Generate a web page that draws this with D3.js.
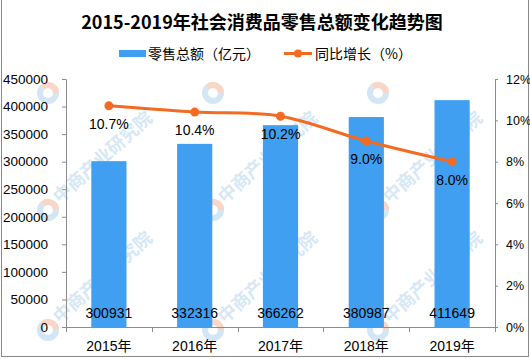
<!DOCTYPE html>
<html>
<head>
<meta charset="utf-8">
<script src="https://cdn.jsdelivr.net/npm/d3@7"></script>
<style>
  html, body { margin: 0; padding: 0; background: #fff; }
  svg { display: block; }
</style>
</head>
<body>
<svg id="chart" width="530" height="359"></svg>
<script>
// ---- data ----
const categories = ["2015年", "2016年", "2017年", "2018年", "2019年"];
const salesValues = [300931, 332316, 366262, 380987, 411649];
const growthValues = [10.7, 10.4, 10.2, 9.0, 8.0];
const growthLabels = ["10.7%", "10.4%", "10.2%", "9.0%", "8.0%"];
const leftTicks = [0, 50000, 100000, 150000, 200000, 250000, 300000, 350000, 400000, 450000];
const rightTicks = [0, 2, 4, 6, 8, 10, 12];
const titleText = "2015-2019年社会消费品零售总额变化趋势图";
const legendBarText = "零售总额（亿元）";
const legendLineText = "同比增长（%）";
const watermarkText = "中商产业研究院";

(function () {
// ---- layout ----
const svg = d3.select("#chart");
const W = 530, H = 359;
const pLeft = 66, pRight = 495, pTop = 79, pBottom = 327;
const barColor = "#419ff1";
const lineColor = "#f36a22";
const axisColor = "#8c8c8c";
const numFont = "'Liberation Sans', Arial, 'Noto Sans CJK SC', sans-serif";
const cjkFont = "'Noto Sans CJK SC', sans-serif";

svg.append("rect").attr("width", W).attr("height", H).attr("fill", "#fff");

// watermarks (logos everywhere, text only where it fits inside the picture)
const wm = svg.append("g").attr("class", "watermark");
const wmX = [48, 213, 378];
const wmY = [93, 210, 330];
wmY.forEach(ly => wmX.forEach(lx => {
  const g = wm.append("g").attr("transform", `translate(${lx},${ly})`);
  const arc = d3.arc().innerRadius(5).outerRadius(11);
  g.append("path").attr("d", arc({startAngle: Math.PI * 0.25, endAngle: Math.PI * 1.75}))
    .attr("fill", "#d3e6f5");
  g.append("path").attr("d", arc({startAngle: -Math.PI * 0.25, endAngle: Math.PI * 0.5}))
    .attr("fill", "#f8d6c8");
  if (ly > 150) {
    g.append("text")
      .attr("transform", "translate(12,-6) rotate(-42)")
      .attr("font-family", cjkFont)
      .attr("font-size", 18)
      .attr("font-weight", "bold")
      .attr("fill", "#d6e7f5")
      .text(watermarkText);
  }
}));

// border
svg.append("rect")
  .attr("x", 1.5).attr("y", -2).attr("width", 527).attr("height", 358.5)
  .attr("fill", "none").attr("stroke", "#8a8a8a").attr("stroke-width", 1);

// scales
const x = d3.scaleBand().domain(categories).range([pLeft, pRight]).padding(0);
const yL = d3.scaleLinear().domain([0, 450000]).range([pBottom, pTop]);
const yR = d3.scaleLinear().domain([0, 12]).range([pBottom, pTop]);
const bw = x.bandwidth() * 0.41;

// bars
svg.append("g").selectAll("rect")
  .data(salesValues)
  .join("rect")
  .attr("x", (d, i) => x(categories[i]) + x.bandwidth() / 2 - bw / 2)
  .attr("y", d => yL(d))
  .attr("width", bw)
  .attr("height", d => yL(0) - yL(d))
  .attr("fill", barColor);

// left axis
const axL = svg.append("g")
  .attr("transform", `translate(${pLeft},0)`)
  .call(d3.axisLeft(yL).tickValues(leftTicks).tickSize(4).tickPadding(14).tickSizeOuter(0).tickFormat(d3.format("d")));
axL.select(".domain").attr("stroke", axisColor);
axL.selectAll(".tick line").attr("stroke", axisColor);
axL.selectAll("text").attr("font-family", numFont).attr("font-size", 13.5).attr("fill", "#000");

// right axis
const axR = svg.append("g")
  .attr("transform", `translate(${pRight},0)`)
  .call(d3.axisRight(yR).tickValues(rightTicks).tickSize(3).tickPadding(8).tickSizeOuter(0).tickFormat(d => d + "%"));
axR.select(".domain").attr("stroke", axisColor);
axR.selectAll(".tick line").attr("stroke", axisColor);
axR.selectAll("text").attr("font-family", numFont).attr("font-size", 12.5).attr("fill", "#000");

// bottom axis
const axB = svg.append("g")
  .attr("transform", `translate(0,${pBottom})`)
  .call(d3.axisBottom(x).tickSize(0).tickPadding(14).tickSizeOuter(0));
axB.select(".domain").attr("stroke", axisColor).attr("d", `M${pLeft - 4},0.5H${pRight}`);
axB.selectAll("text").attr("font-family", numFont).attr("font-size", 14).attr("fill", "#000");
// category boundary ticks
const boundaries = categories.map(c => x(c)).concat([x(categories[categories.length - 1]) + x.bandwidth()]);
axB.selectAll(".bnd").data(boundaries).join("line")
  .attr("x1", d => Math.round(d) + 0.5).attr("x2", d => Math.round(d) + 0.5)
  .attr("y1", 0).attr("y2", 5)
  .attr("stroke", axisColor);

// bar value labels
svg.append("g").selectAll("text")
  .data(salesValues)
  .join("text")
  .attr("x", (d, i) => x(categories[i]) + x.bandwidth() / 2)
  .attr("y", pBottom - 9)
  .attr("text-anchor", "middle")
  .attr("font-family", numFont)
  .attr("font-size", 14)
  .attr("fill", "#000")
  .text(d => d);

// line
const pts = growthValues.map((v, i) => [x(categories[i]) + x.bandwidth() / 2, yR(v)]);
svg.append("path")
  .attr("d", d3.line().curve(d3.curveCardinal.tension(0))(pts))
  .attr("fill", "none")
  .attr("stroke", lineColor)
  .attr("stroke-width", 3);
svg.append("g").selectAll("circle")
  .data(growthValues)
  .join("circle")
  .attr("cx", (d, i) => x(categories[i]) + x.bandwidth() / 2)
  .attr("cy", d => yR(d))
  .attr("r", 4.5)
  .attr("fill", lineColor);

// growth labels
svg.append("g").selectAll("text")
  .data(growthValues)
  .join("text")
  .attr("x", (d, i) => x(categories[i]) + x.bandwidth() / 2)
  .attr("y", d => yR(d) + 23)
  .attr("text-anchor", "middle")
  .attr("font-family", numFont)
  .attr("font-size", 14)
  .attr("fill", "#000")
  .text((d, i) => growthLabels[i]);

// title
svg.append("text")
  .attr("x", 262).attr("y", 29)
  .attr("text-anchor", "middle")
  .attr("font-family", cjkFont)
  .attr("font-weight", "bold")
  .attr("font-size", 18)
  .attr("fill", "#000")
  .text(titleText);

// legend
const lg = svg.append("g");
lg.append("rect").attr("x", 119).attr("y", 50).attr("width", 27).attr("height", 7).attr("fill", barColor);
lg.append("text").attr("x", 148).attr("y", 58.5)
  .attr("font-family", cjkFont).attr("font-size", 14).attr("fill", "#000").text(legendBarText);
lg.append("line").attr("x1", 284).attr("x2", 312).attr("y1", 53.5).attr("y2", 53.5)
  .attr("stroke", lineColor).attr("stroke-width", 3);
lg.append("circle").attr("cx", 298).attr("cy", 53.5).attr("r", 4).attr("fill", lineColor);
lg.append("text").attr("x", 315).attr("y", 58.5)
  .attr("font-family", cjkFont).attr("font-size", 14).attr("fill", "#000").text(legendLineText);
})();
</script>
</body>
</html>
